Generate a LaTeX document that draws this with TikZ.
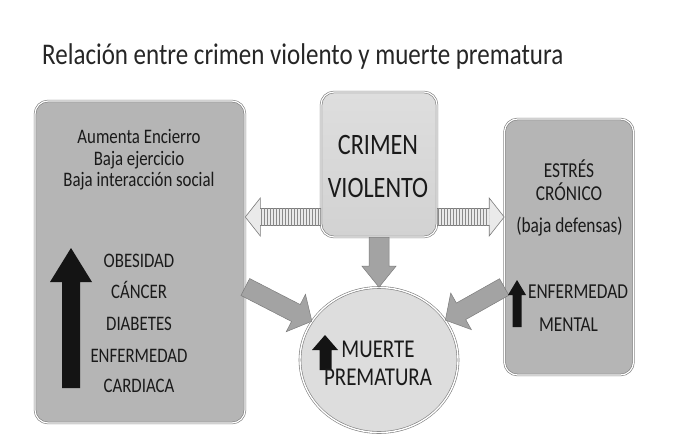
\documentclass[tikz,border=0pt]{standalone}
\usepackage{fontspec}
\setmainfont{Carlito}
\usepackage{graphicx}
\usetikzlibrary{calc,patterns.meta,shapes.geometric}
\definecolor{txt}{HTML}{1A1A1A}
\definecolor{titletxt}{HTML}{262626}
\definecolor{boxdark}{HTML}{B5B5B5}
\definecolor{boxtop}{HTML}{DEDEDE}
\definecolor{boxbot}{HTML}{D2D2D2}
\definecolor{circfill}{HTML}{DDDDDD}
\definecolor{arrgray}{HTML}{A3A3A3}
\definecolor{edgegray}{HTML}{7C7C7C}
\definecolor{stripe}{HTML}{8A8A8A}
\definecolor{stripebg}{HTML}{EAEAEA}
\newcommand\vs[1]{\scalebox{1.02}[1.25]{#1}}
% #1 full-shape style, #2 from, #3 to, #4 half shaft, #5 half head, #6 head length, #7 shaft overlay style
\newcommand\fatarrow[7]{%
  \coordinate (fa-h) at ($(#3)!#6!(#2)$);
  \path[#1] ($(#2)!#4!90:(#3)$) -- ($(fa-h)!#4!90:(#3)$) -- ($(fa-h)!#5!90:(#3)$) -- (#3)
    -- ($(fa-h)!#5!-90:(#3)$) -- ($(fa-h)!#4!-90:(#3)$) -- ($(#2)!#4!-90:(#3)$) -- cycle;
  \path[#7] ($(#2)!#4!90:(#3)$) -- ($(fa-h)!#4!90:(#3)$) -- ($(fa-h)!#4!-90:(#3)$) -- ($(#2)!#4!-90:(#3)$) -- cycle;
}
\begin{document}
\begin{tikzpicture}[x=1pt,y=-1pt,
  panel/.style={draw=edgegray, line width=0.6pt, double=white, double distance=1.2pt,
    rounded corners=13pt, inner sep=0pt},
  lbl/.style={anchor=base, inner sep=0pt, text=txt},
  fl/.style={font=\fontsize{16.5}{20}\selectfont},
  fc/.style={font=\fontsize{23.7}{28}\selectfont},
  fr/.style={font=\fontsize{17}{20}\selectfont},
  fm/.style={font=\fontsize{20.5}{24}\selectfont},
  grayarrow/.style={fill=arrgray, draw=edgegray, line width=0.5pt, line join=miter},
  stripehead/.style={fill=stripebg, draw=edgegray, line width=0.6pt},
  stripeshaft/.style={pattern={Lines[angle=90,distance=3pt,line width=0.9pt]}, pattern color=stripe},
  blackarrow/.style={fill=black!92}]
\useasboundingbox[fill=white] (0,0) rectangle (694,436);

% title
\node[anchor=base west, inner sep=0pt, text=titletxt, font=\fontsize{25}{30}\selectfont] (title) at (42,65)
  {\scalebox{1}[1.2]{Relación entre crimen violento y muerte prematura}};

% boxes
\node[panel, fill=boxdark, minimum width=210pt, minimum height=322pt] (L) at (140,262) {};
\node[panel, top color=boxtop, bottom color=boxbot, minimum width=116pt, minimum height=145pt] (V) at (379,164.5) {};
\node[panel, fill=boxdark, minimum width=129pt, minimum height=256pt] (R) at (569,247) {};
\node[ellipse, draw=edgegray, line width=0.6pt, double=white, double distance=1.4pt, fill=circfill,
  minimum width=158pt, minimum height=145pt, inner sep=0pt] (C) at (379,360) {};

% connectors
\coordinate (sl1) at (V.west |- 0,217);
\coordinate (sl2) at (L.east |- 0,217);
\fatarrow{stripehead}{sl1}{sl2}{8.5pt}{19pt}{15pt}{stripeshaft}
\coordinate (sr1) at (V.east |- 0,217);
\coordinate (sr2) at (R.west |- 0,217);
\fatarrow{stripehead}{sr1}{sr2}{8.5pt}{19pt}{15pt}{stripeshaft}

\fatarrow{grayarrow}{V.south}{C.north}{10pt}{17pt}{21pt}{}
\coordinate (gl1) at (L.east |- 0,287);
\fatarrow{grayarrow}{gl1}{C.150}{9.5pt}{21pt}{18pt}{}
\coordinate (gr1) at (R.west |- 0,287);
\fatarrow{grayarrow}{gr1}{C.31}{9.5pt}{21pt}{18pt}{}

% black up arrows
\fill[blackarrow] (62,388) -- (62,282) -- (50,282) -- (71,248) -- (92,282) -- (80,282) -- (80,388) -- cycle;
\fill[blackarrow] (512.5,327) -- (512.5,295) -- (508,295) -- (517,280) -- (526,295) -- (521.5,295) -- (521.5,327) -- cycle;
\fill[blackarrow] (319.5,370) -- (319.5,350) -- (312,350) -- (325,335) -- (338,350) -- (331.5,350) -- (331.5,370) -- cycle;

% left box text
\node[lbl, fl] (l1) at (139,143) {\vs{Aumenta Encierro}};
\node[lbl, fl] (l2) at (139,165) {\vs{Baja ejercicio}};
\node[lbl, fl] (l3) at (139,186) {\vs{Baja interacción social}};
\node[lbl, fl] (l4) at (139,267) {\vs{OBESIDAD}};
\node[lbl, fl] (l5) at (139,298) {\vs{CÁNCER}};
\node[lbl, fl] (l6) at (139,330) {\vs{DIABETES}};
\node[lbl, fl] (l7) at (139,362) {\vs{ENFERMEDAD}};
\node[lbl, fl] (l8) at (139,392) {\vs{CARDIACA}};

% center box text
\node[lbl, fc] (c1) at (378,154) {\vs{CRIMEN}};
\node[lbl, fc] (c2) at (378,197) {\vs{VIOLENTO}};

% right box text
\node[lbl, fr] (r1) at (569,177) {\vs{ESTRÉS}};
\node[lbl, fr] (r2) at (569,200) {\vs{CRÓNICO}};
\node[lbl, fr] (r3) at (569.5,232) {\vs{(baja defensas)}};
\node[lbl, fr] (r4) at (578,298) {\vs{ENFERMEDAD}};
\node[lbl, fr] (r5) at (568.5,331) {\vs{MENTAL}};

% circle text
\node[lbl, fm] (m1) at (378,357) {\vs{MUERTE}};
\node[lbl, fm] (m2) at (378,385) {\vs{PREMATURA}};
\end{tikzpicture}
\end{document}
